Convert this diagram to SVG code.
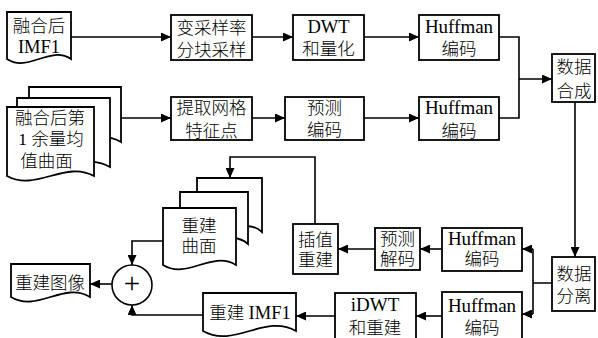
<svg xmlns="http://www.w3.org/2000/svg" width="598" height="338" viewBox="0 0 598 338">
<defs>
<style>
.box{fill:#fff;stroke:#000;stroke-width:1.8}
.doc{fill:#fff;stroke:#000;stroke-width:1.8;stroke-linejoin:miter}
.ln{fill:none;stroke:#000;stroke-width:1.6}
.ar{fill:none;stroke:#000;stroke-width:1.6;marker-end:url(#ah)}
text{font-family:"Liberation Serif","Noto Sans CJK SC",serif;font-size:17.5px;font-weight:300;text-anchor:middle;fill:#000}
.lt{font-size:18.5px;font-weight:400}
.hf{font-size:19px;font-weight:400}
</style>
<marker id="ah" markerWidth="10" markerHeight="9" refX="10" refY="4.5" orient="auto" markerUnits="userSpaceOnUse"><path d="M0,0 L10,4.5 L0,9 z" fill="#000"/></marker>
</defs>
<rect width="598" height="338" fill="#fff"/>

<g id="connectors">
<path class="ar" d="M71,37 H171"/>
<path class="ar" d="M252,37 H293"/>
<path class="ar" d="M364,37 H419"/>
<path class="ln" d="M499,37 H519 V118 H499"/>
<path class="ar" d="M519,79 H552"/>
<path class="ar" d="M121,118 H171"/>
<path class="ar" d="M252,118 H285"/>
<path class="ar" d="M364,118 H419"/>
<path class="ar" d="M575,102 V257"/>
<path class="ln" d="M552,283 H533 M533,249 V314"/>
<path class="ar" d="M533,249 H522"/>
<path class="ar" d="M533,314 H522"/>
<path class="ar" d="M442,249 H420"/>
<path class="ar" d="M375,249 H338"/>
<path class="ar" d="M315,224 V157 H230 V178"/>
<path class="ar" d="M442,316 H416"/>
<path class="ar" d="M335,316 H296"/>
<path class="ar" d="M203,315 H132 V305"/>
<path class="ar" d="M163,241 H132 V265"/>
<path class="ar" d="M112,284 H90"/>
</g>

<g id="imf1-in">
<path class="doc" d="M7,12 H71 V59 C49.7,45 28.3,73 7,59 Z"/>
<text x="39" y="31.5">融合后</text>
<text class="lt" x="39" y="53">IMF1</text>
</g>

<g id="vsample">
<rect class="box" x="171" y="15" width="81" height="45"/>
<text x="211.5" y="33.5">变采样率</text>
<text x="211.5" y="55.5">分块采样</text>
</g>

<g id="dwt">
<rect class="box" x="293" y="15" width="71" height="45"/>
<text class="lt" x="328.5" y="33">DWT</text>
<text x="328.5" y="54.5">和量化</text>
</g>

<g id="huff1">
<rect class="box" x="419" y="15" width="80" height="45"/>
<text class="hf" x="459" y="32.5">Huffman</text>
<text x="459" y="55">编码</text>
</g>

<g id="merge">
<rect class="box" x="552" y="54" width="43" height="48"/>
<text x="574" y="72.5">数据</text>
<text x="574" y="96.5">合成</text>
</g>

<g id="residual-in">
<path class="doc" d="M29,87 H121 V142 C90.3,124 59.7,160 29,142 Z"/>
<path class="doc" d="M17,98 H110 V167 C79,149 48,185 17,167 Z"/>
<path class="doc" d="M7,107 H94 V176 C65,160 36,192 7,176 Z"/>
<text x="50" y="123.5">融合后第</text>
<text x="51" y="144.5">1 余量均</text>
<text x="46.5" y="166.5">值曲面</text>
</g>

<g id="grid">
<rect class="box" x="171" y="97" width="81" height="43"/>
<text x="211.5" y="113.5">提取网格</text>
<text x="211.5" y="137">特征点</text>
</g>

<g id="predenc">
<rect class="box" x="285" y="97" width="79" height="43"/>
<text x="324.5" y="113.5">预测</text>
<text x="324.5" y="135.5">编码</text>
</g>

<g id="huff2">
<rect class="box" x="419" y="97" width="80" height="43"/>
<text class="hf" x="459" y="114">Huffman</text>
<text x="459" y="136.5">编码</text>
</g>

<g id="split">
<rect class="box" x="552" y="257" width="43" height="54"/>
<text x="574" y="279.5">数据</text>
<text x="574" y="301.5">分离</text>
</g>

<g id="huff3">
<rect class="box" x="442" y="228" width="80" height="43"/>
<text class="hf" x="482" y="245">Huffman</text>
<text x="482" y="264.5">编码</text>
</g>

<g id="preddec">
<rect class="box" x="375" y="228" width="45" height="42"/>
<text x="397.5" y="244.5">预测</text>
<text x="397.5" y="264.5">解码</text>
</g>

<g id="interp">
<rect class="box" x="293" y="224" width="45" height="50"/>
<text x="315.5" y="245.5">插值</text>
<text x="315.5" y="265.5">重建</text>
</g>

<g id="surf">
<path class="doc" d="M197,178 H262 V232 C240.3,212 218.7,252 197,232 Z"/>
<path class="doc" d="M180,192 H248 V244 C225.3,224 202.7,264 180,244 Z"/>
<path class="doc" d="M163,208 H236 V265 C211.7,250 187.3,280 163,265 Z"/>
<text x="199" y="231.5">重建</text>
<text x="199" y="251.5">曲面</text>
</g>

<g id="huff4">
<rect class="box" x="442" y="292" width="80" height="50"/>
<text class="hf" x="482" y="312">Huffman</text>
<text x="482" y="333.5">编码</text>
</g>

<g id="idwt">
<rect class="box" x="335" y="293" width="81" height="49"/>
<text class="hf" x="375" y="311">iDWT</text>
<text x="375" y="333.5">和重建</text>
</g>

<g id="imf1-out">
<path class="doc" d="M203,293 H296 V331 C265,313 234,349 203,331 Z"/>
<text x="250" y="318.5">重建 <tspan class="lt">IMF1</tspan></text>
</g>

<g id="sum">
<circle cx="132" cy="285" r="20" fill="#fff" stroke="#000" stroke-width="1.6"/>
<text class="lt" x="132" y="293" style="font-size:29px">+</text>
</g>

<g id="recon">
<path class="doc" d="M11,264 H90 V297 C63.7,281 37.3,313 11,297 Z"/>
<text x="50" y="288.5">重建图像</text>
</g>
</svg>
